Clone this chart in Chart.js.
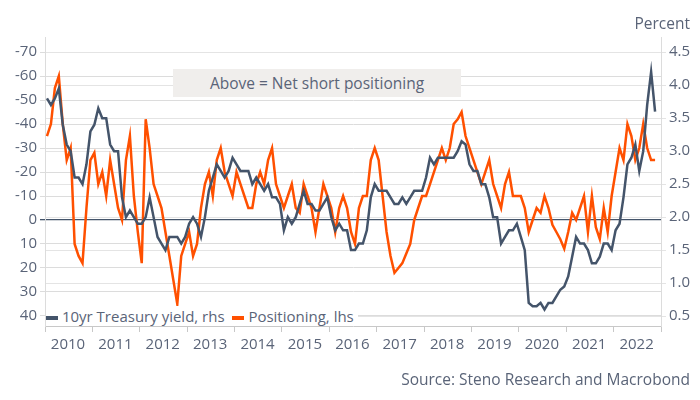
<!DOCTYPE html>
<html><head><meta charset="utf-8">
<script src="https://cdn.jsdelivr.net/npm/chart.js@4"></script>
<style>
body{margin:0;background:#fff;font-family:"Open Sans",sans-serif;color:#5a6478}
#w{position:relative;width:700px;height:400px}
.ov{position:absolute;font-size:15px;color:#5a6478;white-space:nowrap}
</style></head><body><div id="w">
<canvas id="c" width="700" height="400"></canvas>
<div class="ov" style="left:173px;top:69px;width:288px;height:28px;background:#f0eeec;line-height:28px;text-align:center;font-size:15.5px">Above = Net short positioning</div>
<div class="ov" style="right:10px;top:12px;font-size:15.5px">Percent</div>
<div class="ov" style="left:46px;top:306px;background:#fff;padding-right:4px"><span style="display:inline-block;width:12px;height:4px;background:#44546a;vertical-align:middle"></span> 10yr Treasury yield, rhs <span style="display:inline-block;width:12px;height:4px;background:#ff5000;vertical-align:middle;margin-left:4px"></span> Positioning, lhs</div>
<div class="ov" style="right:10px;top:368px;font-size:15.5px">Source: Steno Research and Macrobond</div>
</div>
<script>
const startYear = 2010;
const yearLabels = ["2010","2011","2012","2013","2014","2015","2016","2017","2018","2019","2020","2021","2022"];
const leftTicks = [-70,-60,-50,-40,-30,-20,-10,0,10,20,30,40];
const rightTicks = [0.5,1.0,1.5,2.0,2.5,3.0,3.5,4.0,4.5];
// monthly, Jan 2010 .. Nov 2022
const treasury = [
3.8,3.7,3.8,3.95,3.4,3.1,3.0,2.6,2.6,2.5,2.8,3.3,
3.4,3.65,3.5,3.5,3.1,3.0,3.0,2.3,2.0,2.1,2.0,1.9,
1.9,2.0,2.3,2.0,1.7,1.6,1.5,1.7,1.7,1.7,1.6,1.7,
1.9,2.0,1.9,1.7,2.0,2.4,2.6,2.8,2.7,2.6,2.7,2.9,
2.8,2.7,2.7,2.7,2.5,2.6,2.5,2.4,2.5,2.3,2.3,2.2,
1.8,2.0,1.9,2.0,2.2,2.4,2.2,2.2,2.1,2.1,2.2,2.3,
2.0,1.8,1.9,1.8,1.8,1.5,1.5,1.6,1.6,1.8,2.3,2.5,
2.4,2.4,2.4,2.3,2.2,2.2,2.3,2.2,2.3,2.4,2.4,2.4,
2.6,2.9,2.8,2.9,2.9,2.9,2.9,2.9,3.0,3.15,3.1,2.8,
2.7,2.7,2.5,2.5,2.3,2.0,2.0,1.6,1.7,1.8,1.8,1.9,
1.7,1.5,0.7,0.65,0.65,0.7,0.6,0.7,0.7,0.8,0.9,0.95,
1.1,1.4,1.7,1.6,1.6,1.5,1.3,1.3,1.4,1.6,1.6,1.5,
1.8,1.9,2.3,2.8,2.9,3.1,2.7,3.0,3.7,4.2,3.6
];
const positioning = [
-35,-40,-55,-60,-40,-25,-30,10,15,18,-5,-25,
-28,-15,-20,-10,-25,-15,-5,0,-25,-35,-10,5,
18,-42,-30,-15,-10,-5,5,15,25,35,15,10,
5,15,10,-5,-15,-20,-10,-25,-30,-20,-15,-10,
-20,-15,-10,-5,-5,-15,-20,-15,-25,-30,-15,-10,
-5,-10,-15,-5,-3,-15,-10,-5,5,-5,-15,-10,
-5,5,-5,-10,-5,5,10,-5,-10,-10,-25,-30,
-25,-10,5,15,22,20,18,14,10,0,-5,-10,
-10,-15,-20,-25,-30,-25,-30,-40,-42,-45,-35,-30,
-25,-20,-15,-20,-25,-15,-10,-5,-15,-20,-10,-10,
-10,-5,5,0,-5,-3,-10,-5,2,5,8,12,
5,-3,0,-5,-10,5,-10,3,8,-5,5,-10,
-20,-30,-25,-40,-35,-25,-30,-40,-30,-25,-25
];
const toPts = arr => arr.map((v,i)=>({x:startYear + (i+0.5)/12, y:v}));
const font = {family:"Open Sans", size:15};
const txt = "#5a6478";
new Chart(document.getElementById('c'),{
  type:'line',
  data:{datasets:[
    {label:'Positioning, lhs',data:toPts(positioning),yAxisID:'yl',borderColor:'#ff5000',borderWidth:2.5,pointRadius:0,tension:0,order:2},
    {label:'10yr Treasury yield, rhs',data:toPts(treasury),yAxisID:'yr',borderColor:'#44546a',borderWidth:2.5,pointRadius:0,tension:0,order:1}
  ]},
  options:{
    responsive:false,animation:false,
    layout:{padding:{top:37,left:0,right:0,bottom:0}},
    plugins:{legend:{display:false},tooltip:{enabled:false}},
    scales:{
      x:{type:'linear',min:2010,max:2023,
        afterBuildTicks:s=>{s.ticks=[];for(let y=2010;y<=2023;y++)s.ticks.push({value:y});},
        afterFit:s=>{s.height=74;},
        grid:{drawOnChartArea:false,color:'#c8c8c8',tickLength:6},
        border:{color:'#c8c8c8'},
        ticks:{font,color:txt,labelOffset:23,padding:4,maxRotation:0,autoSkip:false,
          callback:v=>{const i=Math.round(v)-startYear;return yearLabels[i]||'';}}},
      yl:{position:'left',reverse:true,min:-76.3,max:44.2,
        afterBuildTicks:s=>{s.ticks=leftTicks.map(v=>({value:v}));},
        afterFit:s=>{s.width=45;},
        grid:{color:c=>c.tick&&c.tick.value===0?'#44546a':'#dcdcdc',lineWidth:c=>c.tick&&c.tick.value===0?1.3:1,tickLength:5},
        border:{color:'#dcdcdc'},
        ticks:{font,color:txt,padding:3}},
      yr:{position:'right',min:0.35,max:4.73,
        afterBuildTicks:s=>{s.ticks=rightTicks.map(v=>({value:v}));},
        afterFit:s=>{s.width=39;},
        grid:{color:'#e4e4e4',tickLength:5},
        border:{color:'#dcdcdc'},
        ticks:{font,color:txt,padding:3,callback:v=>v.toFixed(1)}}
    }
  }
});
</script></body></html>
